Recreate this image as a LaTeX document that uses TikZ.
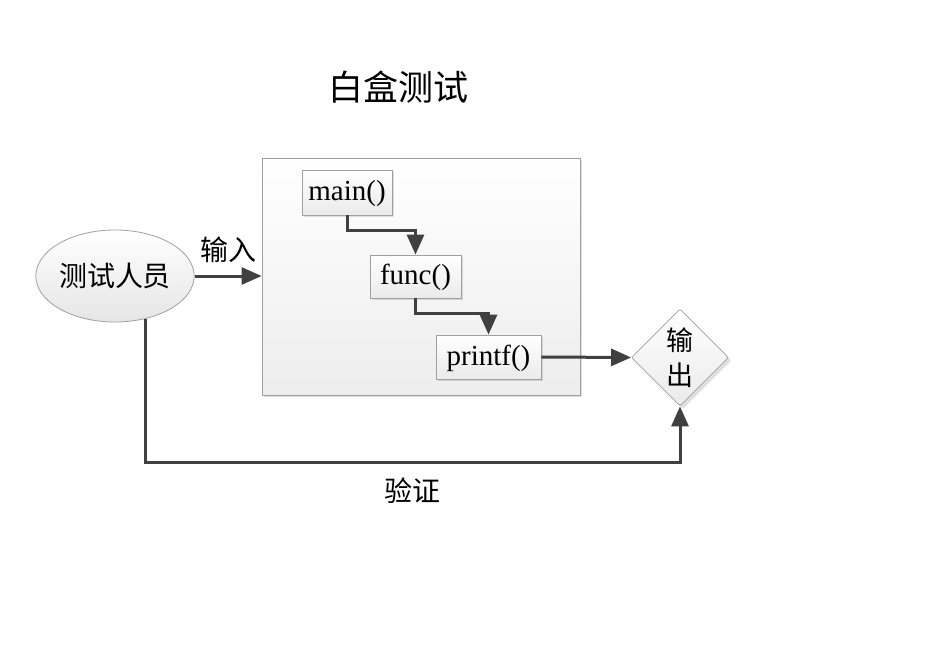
\documentclass[tikz,border=0pt]{standalone}
\usepackage{fontspec}
\setmainfont{Liberation Serif}
\newfontfamily\cjk{Noto Sans CJK SC}
\usepackage{tikz}
\usetikzlibrary{shapes,arrows.meta,positioning,calc,shapes.geometric,shadows}
\definecolor{linegray}{HTML}{404040}
\definecolor{edgegray}{HTML}{A0A0A0}

\begin{document}
\begin{tikzpicture}[x=1pt, y=-1pt,
    panel/.style={rectangle, draw=edgegray, line width=0.8pt, top color=white, bottom color=gray!14, drop shadow={shadow xshift=2pt, shadow yshift=-2pt, opacity=0.25}},
    func/.style={rectangle, draw=edgegray, line width=0.8pt, top color=white, bottom color=gray!16, inner sep=0pt, text height=20pt, text depth=4pt, font=\fontsize{29}{32}\selectfont, drop shadow={shadow xshift=2pt, shadow yshift=-2pt, opacity=0.25}},
    person/.style={ellipse, draw=edgegray, line width=0.8pt, top color=white, bottom color=gray!20, inner sep=0pt, font=\cjk\fontsize{28}{32}\selectfont},
    result/.style={diamond, draw=edgegray, line width=0.8pt, rounded corners=2pt, top color=white, bottom color=gray!16, inner sep=0pt, align=center, font=\cjk\fontsize{27}{35}\selectfont, drop shadow={shadow xshift=3pt, shadow yshift=-3pt, opacity=0.25}},
    label/.style={font=\cjk\fontsize{28}{32}\selectfont},
    arrow/.style={-{Triangle[length=20pt, width=17pt]}, draw=linegray, line width=3pt}
]
\useasboundingbox (0,0) rectangle (927,658);

\node[font=\cjk\fontsize{35}{40}\selectfont] (title) at (398,87) {白盒测试};

\node[panel, minimum width=318pt, minimum height=237pt] (whitebox) at (421,276.5) {};
\node[func, minimum width=90pt, minimum height=45pt] (main) at (347,192.5) {main()};
\node[func, minimum width=91pt, minimum height=43pt] (callee) at (415.5,276.5) {func()};
\node[func, minimum width=105pt, minimum height=44pt] (print) at (488.5,357) {printf()};

\node[person, minimum width=155pt, minimum height=92pt] (tester) at (115,276) {测试人员};
\node[result, minimum width=97pt, minimum height=97pt] (out) at (680,357.5) {输\\出};
\coordinate (check) at (412,462);

\draw[arrow] (main.south) -- ++(0,15) -| (callee.north);
\draw[arrow] (callee.south) -- ++(0,15) -| (print.north);
\draw[arrow] (tester.east) -- node[label, above=8pt] {输入} (tester.east -| whitebox.west);
\draw[arrow] (print.east) -- (out.west);
\draw[arrow] (tester.-55) |- (check) -| (out.south);
\node[label, below=12pt of check] (verify) {验证};

\end{tikzpicture}
\end{document}
